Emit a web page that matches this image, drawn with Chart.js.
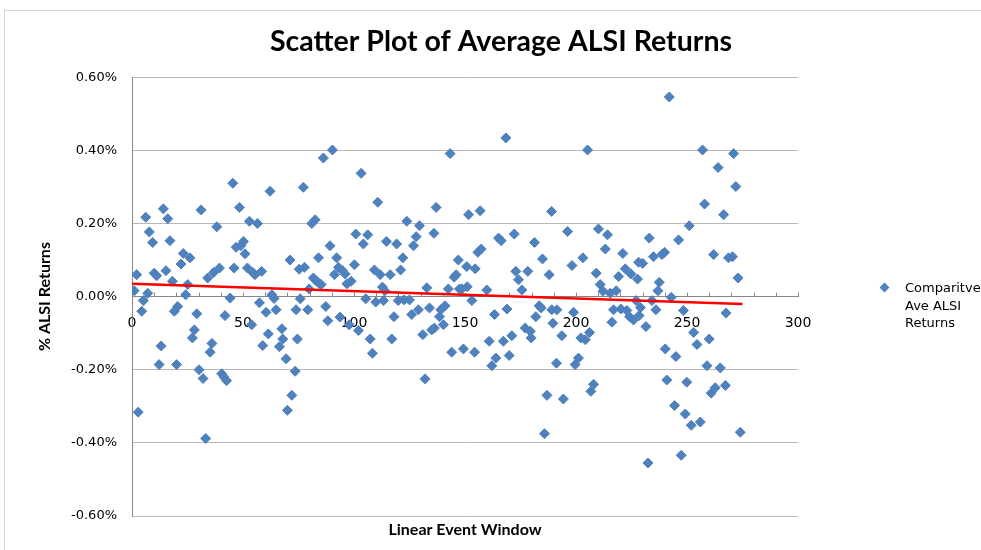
<!DOCTYPE html>
<html>
<head>
<meta charset="utf-8">
<script src="https://cdn.jsdelivr.net/npm/chart.js@4.4.1/dist/chart.umd.min.js"></script>
<style>
  html, body { margin: 0; padding: 0; background: #fff; }
  #wrap { position: relative; width: 981px; height: 550px; overflow: hidden; }
  #frame { position: absolute; left: 4px; top: 10px; width: 1000px; height: 600px;
           border-top: 1px solid #d4d4d4; border-left: 1px solid #d4d4d4; }
  #legend { position: absolute; left: 878px; top: 279px; font: 13px "DejaVu Sans", sans-serif;
            color: #000; line-height: 17.5px; }
  #legend .mark { position: absolute; left: 3px; top: 5px; width: 7px; height: 7px;
                  background: #4F81BD; transform: rotate(45deg); }
  #legend .txt { margin-left: 27px; }
  canvas { position: absolute; left: 0; top: 0; }
</style>
</head>
<body>
<div id="wrap">
  <div id="frame"></div>
  <canvas id="scatterChart" width="981" height="550"></canvas>
  <div id="legend"><span class="mark"></span><div class="txt">Comparitve<br>Ave ALSI<br>Returns</div></div>
</div>
<script>
// Điểm trong cửa sổ sự kiện (trục X) và lợi nhuận trung bình (%)
const eventDays = [
  1.0, 2.1, 2.8, 4.4, 5.1, 6.2, 7.1, 7.8, 9.3, 10.0, 11.1, 12.2, 13.1, 14.1, 15.3, 16.1, 17.1, 18.2, 19.1, 20.1,
  20.6, 22.1, 23.1, 24.2, 25.1, 26.1, 27.2, 28.1, 29.2, 30.2, 31.1, 32.0, 33.2, 34.1, 35.2, 36.0, 36.8, 38.2, 39.4, 40.4,
  41.4, 41.9, 42.6, 44.2, 45.4, 46.0, 46.9, 48.4, 49.0, 50.2, 50.9, 52.0, 52.9, 53.9, 54.4, 55.4, 56.5, 57.4, 58.4, 58.9,
  60.4, 61.4, 62.2, 63.0, 64.0, 64.9, 66.4, 67.5, 67.9, 69.4, 70.0, 71.2, 72.0, 73.5, 73.9, 74.5, 75.3, 75.8, 77.2, 77.7,
  79.2, 79.8, 81.0, 81.7, 82.5, 82.8, 84.0, 84.3, 85.2, 86.2, 87.3, 88.2, 89.2, 90.3, 91.2, 92.2, 93.0, 93.7, 94.8, 96.0,
  96.8, 97.8, 98.7, 100.2, 100.8, 102.0, 103.2, 104.2, 105.3, 106.2, 107.3, 108.3, 109.2, 109.8, 110.7, 111.8, 112.8, 113.3, 113.9, 114.6,
  116.3, 117.0, 118.0, 119.2, 119.9, 121.0, 122.0, 122.6, 123.8, 125.0, 126.0, 126.8, 128.0, 129.0, 129.5, 131.0, 132.0, 132.8, 134.0, 135.0,
  136.0, 136.2, 137.0, 138.5, 139.1, 140.3, 141.0, 142.5, 143.3, 144.0, 145.1, 146.0, 147.0, 147.5, 148.6, 149.3, 150.8, 151.0, 151.6, 153.1,
  154.3, 154.6, 155.8, 156.8, 157.3, 159.8, 160.9, 162.1, 163.3, 163.9, 165.1, 166.3, 167.3, 168.4, 168.9, 169.9, 171.1, 172.2, 172.9, 174.1,
  175.6, 177.1, 178.3, 179.4, 179.8, 181.3, 181.9, 183.4, 184.3, 184.9, 185.8, 186.9, 187.9, 189.0, 189.1, 189.6, 191.2, 191.4, 193.6, 194.3,
  196.2, 198.2, 198.9, 199.6, 201.1, 202.2, 203.1, 204.2, 205.2, 206.1, 206.7, 207.9, 209.1, 210.1, 210.9, 212.1, 213.2, 214.2, 215.4, 216.2,
  216.9, 218.1, 219.2, 220.2, 221.1, 222.2, 222.9, 224.1, 224.7, 225.9, 227.1, 227.7, 228.2, 228.4, 229.0, 230.0, 231.5, 232.4, 233.0, 234.2,
  234.9, 236.0, 236.9, 237.5, 238.7, 239.9, 240.2, 240.9, 242.0, 242.9, 244.4, 245.0, 246.2, 247.4, 248.4, 249.2, 249.9, 251.0, 251.9, 253.0,
  254.5, 256.0, 257.0, 257.9, 259.0, 260.0, 260.9, 262.0, 262.7, 264.0, 265.0, 266.5, 267.3, 267.6, 268.7, 270.5, 271.0, 272.0, 273.0, 274.0
];
const aveReturns = [
  0.016, 0.060, -0.316, -0.040, -0.011, 0.217, 0.009, 0.177, 0.148, 0.064, 0.057, -0.186, -0.135, 0.240, 0.071, 0.213, 0.153, 0.042, -0.040, -0.186,
  -0.027, 0.089, 0.118, 0.005, 0.033, 0.106, -0.113, -0.091, -0.047, -0.200, 0.237, -0.224, -0.388, 0.051, -0.152, -0.128, 0.066, 0.191, 0.078, -0.211,
  -0.220, -0.052, -0.230, -0.004, 0.310, 0.078, 0.135, 0.244, 0.139, 0.151, 0.117, 0.078, 0.206, -0.077, 0.066, 0.060, 0.200, -0.017, 0.069, -0.134,
  -0.043, -0.102, 0.288, 0.005, -0.005, -0.036, -0.137, -0.088, -0.116, -0.170, -0.311, 0.100, -0.270, -0.204, -0.036, -0.116, 0.075, -0.006, 0.299, 0.080,
  -0.036, 0.021, 0.200, 0.051, 0.210, 0.044, 0.106, 0.036, 0.033, 0.379, -0.027, -0.066, 0.139, 0.401, 0.060, 0.106, 0.080, -0.056, 0.071, 0.062,
  0.035, -0.077, 0.042, 0.087, 0.171, -0.093, 0.337, 0.144, -0.006, 0.169, -0.116, -0.155, 0.073, -0.015, 0.258, 0.060, 0.026, -0.011, 0.016, 0.151,
  0.060, -0.116, -0.055, 0.144, -0.011, 0.073, 0.106, -0.009, 0.206, -0.009, -0.049, 0.139, 0.164, -0.036, 0.194, -0.104, -0.225, 0.024, -0.031, -0.091,
  0.173, -0.086, 0.244, -0.055, -0.036, -0.077, -0.025, 0.021, 0.391, -0.152, 0.053, 0.060, 0.100, 0.021, 0.021, -0.143, 0.082, 0.027, 0.224, -0.011,
  -0.152, 0.076, 0.121, 0.235, 0.130, 0.018, -0.122, -0.189, -0.049, -0.168, 0.160, 0.153, -0.122, 0.434, -0.034, -0.161, -0.107, 0.171, 0.069, 0.046,
  0.018, -0.086, 0.069, -0.095, -0.113, 0.148, -0.055, -0.025, -0.031, 0.103, -0.375, -0.270, 0.060, 0.233, -0.036, -0.073, -0.182, -0.036, -0.107, -0.280,
  0.178, 0.085, -0.043, -0.186, -0.168, -0.113, 0.106, -0.118, 0.401, -0.098, -0.259, -0.240, 0.064, 0.185, 0.033, 0.015, 0.130, 0.169, 0.009, -0.070,
  -0.036, 0.016, 0.055, -0.034, 0.118, 0.076, -0.038, -0.055, 0.062, -0.064, -0.011, 0.048, 0.094, -0.052, -0.030, 0.091, -0.082, -0.455, 0.160, -0.011,
  0.109, -0.036, 0.016, 0.039, 0.115, 0.121, -0.143, -0.228, 0.546, -0.002, -0.298, -0.164, 0.155, -0.434, -0.038, -0.321, -0.234, 0.194, -0.352, -0.098,
  -0.131, -0.343, 0.401, 0.253, -0.189, -0.116, -0.264, 0.115, -0.249, 0.353, -0.195, 0.224, -0.243, -0.045, 0.106, 0.109, 0.391, 0.301, 0.051, -0.371
];

// Đường xu hướng tuyến tính (đọc hai đầu mút trên hình)
const trendDays = [0, 275];
const trendReturns = [0.035, -0.020];

const yTicks = [-0.6, -0.4, -0.2, 0, 0.2, 0.4, 0.6];
const xTickLabels = [0, 50, 100, 150, 200, 250, 300];

let scatterChartInstance = null;

// Vạch chia nhỏ trên trục X hướng lên, giống Excel
const upTicksPlugin = {
    id: 'upTicks',
    beforeDatasetsDraw(chart) {
        const x = chart.scales.x;
        const y0 = chart.scales.y.getPixelForValue(0);
        const ctx = chart.ctx;
        ctx.save();
        ctx.strokeStyle = '#868686';
        ctx.lineWidth = 1;
        x.ticks.forEach(t => {
            const px = Math.round(x.getPixelForValue(t.value)) + 0.5;
            ctx.beginPath();
            ctx.moveTo(px, y0 - 4);
            ctx.lineTo(px, y0);
            ctx.stroke();
        });
        ctx.restore();
    }
};

function renderScatterChart() {
    const ctx = document.getElementById('scatterChart').getContext('2d');

    if (scatterChartInstance) {
        scatterChartInstance.destroy();
    }

    const points = eventDays.map((d, i) => ({ x: d, y: aveReturns[i] }));
    const trend = trendDays.map((d, i) => ({ x: d, y: trendReturns[i] }));

    scatterChartInstance = new Chart(ctx, {
        type: 'scatter',
        data: {
            datasets: [{
                label: 'Trend',
                data: trend,
                showLine: true,
                borderColor: '#FF0000',
                borderWidth: 2.5,
                pointRadius: 0,
                fill: false
            }, {
                label: 'Comparitve Ave ALSI Returns',
                data: points,
                pointStyle: 'rectRot',
                pointRadius: 5,
                pointBorderWidth: 1,
                backgroundColor: '#4F81BD',
                borderColor: '#4F81BD'
            }]
        },
        options: {
            responsive: false,
            animation: false,
            layout: { padding: { left: 21, right: 0, top: 0, bottom: 0 } },
            plugins: {
                legend: { display: false },
                tooltip: { enabled: false },
                title: {
                    display: true,
                    text: 'Scatter Plot of Average ALSI Returns',
                    color: '#000',
                    font: { family: 'Lato', size: 28.5, weight: 'bold', lineHeight: 1.2 },
                    padding: { top: 25, bottom: 18 }
                }
            },
            scales: {
                x: {
                    type: 'linear',
                    position: { y: 0 },
                    min: 0,
                    max: 300,
                    afterBuildTicks: (s) => { s.ticks = []; for (let v = 0; v <= 300; v += 10) s.ticks.push({ value: v }); },
                    ticks: {
                        autoSkip: false,
                        maxRotation: 0,
                        padding: 18,
                        color: '#000',
                        font: { family: 'DejaVu Sans', size: 14 },
                        callback: (v) => xTickLabels.includes(v) ? String(v) : ''
                    },
                    grid: { drawOnChartArea: false, drawTicks: false },
                    border: { display: true, color: '#868686', width: 1 }
                },
                xTitle: {
                    type: 'linear',
                    axis: 'x',
                    position: 'bottom',
                    min: 0,
                    max: 300,
                    ticks: { display: false },
                    grid: { display: false, drawTicks: false },
                    border: { display: false },
                    title: {
                        display: true,
                        text: 'Linear Event Window',
                        color: '#000',
                        font: { family: 'Lato', size: 16, weight: 'bold' },
                        padding: { top: 0, bottom: 11 }
                    },
                    afterFit: (s) => { s.height = 34; }
                },
                y: {
                    type: 'linear',
                    position: 'left',
                    min: -0.6,
                    max: 0.6,
                    afterBuildTicks: (s) => { s.ticks = yTicks.map(v => ({ value: v })); },
                    ticks: {
                        padding: 15,
                        color: '#000',
                        font: { family: 'DejaVu Sans', size: 13 },
                        callback: (v) => v.toFixed(2) + '%'
                    },
                    grid: { color: '#b8b8b8', drawTicks: false },
                    border: { display: true, color: '#868686', width: 1 },
                    title: {
                        display: true,
                        text: '% ALSI Returns',
                        color: '#000',
                        font: { family: 'Lato', size: 16, weight: 'bold' },
                        padding: { top: 14, bottom: 0 }
                    },
                    afterFit: (s) => { s.width = 111; }
                },
                legendSpace: {
                    type: 'linear',
                    axis: 'y',
                    position: 'right',
                    ticks: { display: false },
                    grid: { display: false, drawTicks: false },
                    border: { display: false },
                    afterFit: (s) => { s.width = 183; }
                }
            }
        },
        plugins: [upTicksPlugin]
    });
}

renderScatterChart();
</script>
</body>
</html>
